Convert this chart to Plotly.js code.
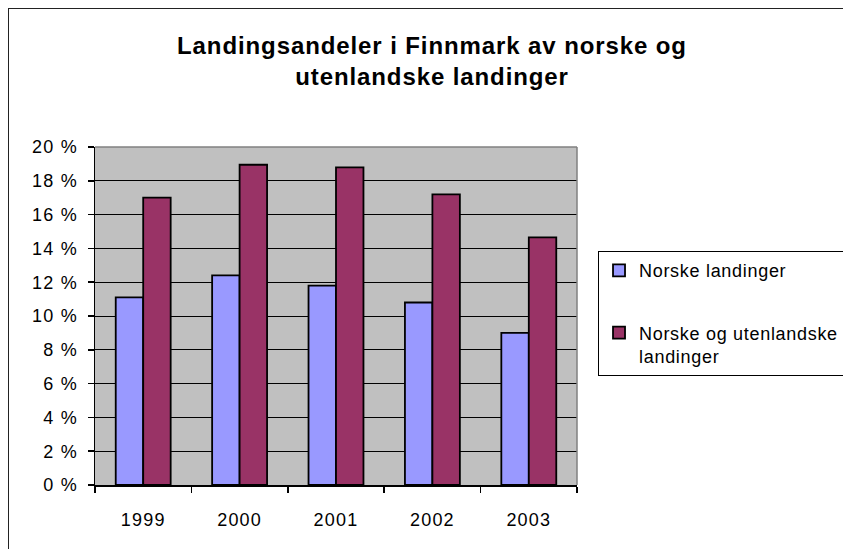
<!DOCTYPE html>
<html>
<head>
<meta charset="utf-8">
<script src="https://cdn.plot.ly/plotly-3.0.1.min.js"></script>
<style>
  html, body { margin: 0; padding: 0; background: #fff; }
  #wrap { position: relative; width: 843px; height: 549px; overflow: hidden; }
  #chart { position: absolute; left: 0; top: 0; width: 843px; height: 549px; }
  #frame { position: absolute; left: 8px; top: 8px; right: 0; bottom: 0;
           border-left: 1.5px solid #222; border-top: 1.5px solid #222; pointer-events: none; }
  .xtick text, .ytick text { letter-spacing: 1.2px; }
  .legendtext { letter-spacing: 0.7px; }
  .gtitle { letter-spacing: 0.9px; }
</style>
</head>
<body>
<div id="wrap">
  <div id="chart"></div>
  <div id="frame"></div>
</div>
<script>
const years = ['1999', '2000', '2001', '2002', '2003'];
const norske = [11.1, 12.4, 11.8, 10.8, 9.0];
const norskeOgUtenlandske = [17.0, 18.95, 18.8, 17.2, 14.65];
const seriesNames = ['Norske landinger', 'Norske og utenlandske<br>landinger'];
const titleText = 'Landingsandeler i Finnmark av norske og<br>utenlandske landinger';

const fontFam = 'Arial, "Liberation Sans", sans-serif';

const traces = [
  {
    type: 'bar', x: years, y: norske, name: seriesNames[0], legendgroup: 'a',
    marker: { color: '#9999FF', line: { color: '#000', width: 1.8 } },
    hoverinfo: 'skip'
  },
  {
    type: 'bar', x: years, y: norskeOgUtenlandske, name: seriesNames[1], legendgroup: 'b',
    marker: { color: '#993366', line: { color: '#000', width: 1.8 } },
    hoverinfo: 'skip'
  }
];

const layout = {
  width: 843, height: 549,
  margin: { l: 95, r: 266, t: 147, b: 64, pad: 0, autoexpand: false },
  paper_bgcolor: 'rgba(0,0,0,0)',
  plot_bgcolor: '#C0C0C0',
  font: { family: fontFam, size: 18, color: '#000' },
  title: {
    text: titleText,
    font: { family: fontFam, size: 24, color: '#000', weight: 'bold' },
    xref: 'container', x: 432 / 843, xanchor: 'center',
    yref: 'container', y: 1 - 54 / 549, yanchor: 'top'
  },
  barmode: 'group',
  bargap: 0.43,
  bargroupgap: 0,
  showlegend: true,
  legend: {
    x: 1.0436, xanchor: 'left', y: 0.692, yanchor: 'top',
    bgcolor: '#fff', bordercolor: '#000', borderwidth: 1,
    font: { family: fontFam, size: 18, color: '#000' },
    valign: 'top', tracegroupgap: 36, traceorder: 'grouped',
    itemwidth: 30
  },
  xaxis: {
    type: 'category',
    showline: true, linecolor: '#000', linewidth: 1.5,
    ticks: 'outside', tickson: 'boundaries', ticklen: 6, tickcolor: '#000', tickwidth: 1.5,
    ticklabelstandoff: 18,
    showgrid: false, zeroline: false,
    tickfont: { family: fontFam, size: 18, color: '#000' }
  },
  yaxis: {
    range: [0, 20], dtick: 2, tick0: 0,
    ticksuffix: ' %',
    showline: true, linecolor: '#000', linewidth: 1.5,
    ticks: 'outside', ticklen: 6, tickcolor: '#000', tickwidth: 1.5,
    ticklabelstandoff: 6,
    showgrid: true, gridcolor: '#000', gridwidth: 1,
    zeroline: false,
    tickfont: { family: fontFam, size: 18, color: '#000' }
  },
  shapes: [
    { type: 'line', xref: 'paper', yref: 'paper', x0: 0, x1: 1, y0: 1, y1: 1,
      line: { color: '#808080', width: 1.5 }, layer: 'above' },
    { type: 'line', xref: 'paper', yref: 'paper', x0: 1, x1: 1, y0: 0, y1: 1,
      line: { color: '#808080', width: 1.5 }, layer: 'above' }
  ]
};

Plotly.newPlot('chart', traces, layout, { staticPlot: true, displayModeBar: false });
</script>
</body>
</html>
